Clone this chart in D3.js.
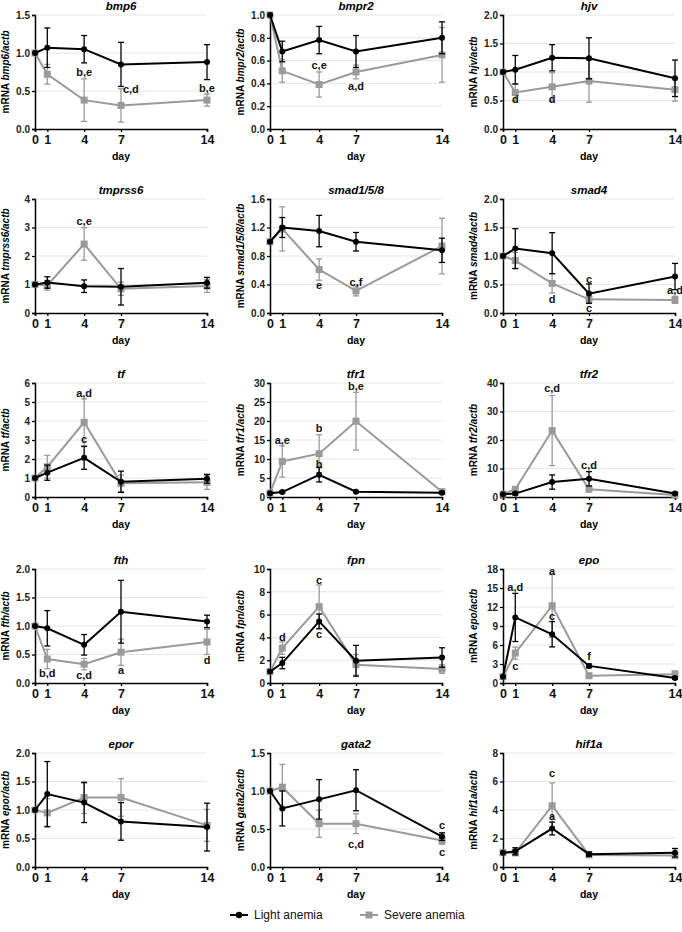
<!DOCTYPE html>
<html><head><meta charset="utf-8">
<script src="https://cdn.jsdelivr.net/npm/d3@7"></script>
<style>body{margin:0;background:#fff;}svg{display:block;font-family:"Liberation Sans",Arial,sans-serif;}</style>
</head><body><svg id="c" width="682" height="932"></svg>
<script>
const days = [0, 1, 4, 7, 14];
const genes = ["bmp6","bmpr2","hjv","tmprss6","smad1/5/8","smad4","tf","tfr1","tfr2","fth","fpn","epo","epor","gata2","hif1a"];
const yMax  = [1.5, 1.0, 2.0, 4, 1.6, 2.0, 6, 30, 40, 2.0, 10, 18, 2.0, 1.5, 8];
const yStep = [0.5, 0.2, 0.5, 1, 0.4, 0.5, 1, 5, 10, 0.5, 2, 3, 0.5, 0.5, 2];
const yFmt  = [".1f",".1f",".1f","d",".1f",".1f","d","d","d",".1f","d","d",".1f",".1f","d"];

const lightMean = [
 [1,1.07,1.05,0.85,0.88],[1,0.68,0.78,0.68,0.80],[1,1.04,1.25,1.24,0.89],
 [1,1.07,0.94,0.92,1.06],[1,1.20,1.15,1.00,0.88],[1,1.13,1.05,0.34,0.64],
 [1,1.28,2.06,0.80,0.96],[1,1.3,5.86,1.4,1.15],[1,1.2,5.25,6.4,1.2],
 [1,0.96,0.67,1.25,1.08],[1,1.75,5.4,1.95,2.24],[1,10.35,7.7,2.7,0.8],
 [1,1.28,1.13,0.80,0.70],[1,0.77,0.89,1.01,0.40],[1,1.1,2.7,0.9,1.0]];
const lightErr = [
 [0,0.26,0.18,0.29,0.23],[0,0.09,0.12,0.14,0.14],[0,0.25,0.23,0.36,0.32],
 [0,0.2,0.22,0.64,0.19],[0,0.14,0.22,0.13,0.17],[0,0.35,0.36,0.17,0.23],
 [0,0.4,0.6,0.56,0.23],[0,0.3,1.9,0.2,0.2],[0,0.5,2.5,2.5,0.3],
 [0,0.31,0.18,0.55,0.11],[0,0.5,0.65,1.35,0.85],[0,3.8,2.0,0.3,0.2],
 [0,0.57,0.35,0.33,0.42],[0,0.23,0.26,0.27,0.05],[0,0.25,0.45,0.15,0.3]];
const severeMean = [
 [1,0.72,0.38,0.31,0.38],[1,0.51,0.39,0.50,0.65],[1,0.64,0.74,0.84,0.69],
 [1,0.97,2.42,0.85,0.95],[1,1.18,0.61,0.31,0.94],[1,0.92,0.52,0.24,0.23],
 [1,1.59,3.93,0.72,0.77],[1,9.36,11.4,19.95,1.4],[1,2.7,23.3,2.7,0.7],
 [1,0.42,0.33,0.54,0.72],[1,3.06,6.7,1.6,1.22],[1,4.72,12.2,1.15,1.4],
 [1,0.95,1.22,1.22,0.73],[1,1.05,0.57,0.57,0.35],[1,1.0,4.3,0.85,0.8]];
const severeErr = [
 [0,0.13,0.28,0.22,0.08],[0,0.1,0.11,0.06,0.24],[0,0.15,0.25,0.37,0.2],
 [0,0.17,0.57,0.23,0.23],[0,0.31,0.15,0.07,0.39],[0,0.14,0.17,0.06,0.06],
 [0,0.6,1.23,0.43,0.37],[0,4.1,5.0,7.6,0.3],[0,0.8,12.3,0.6,0.2],
 [0,0.17,0.1,0.23,0.22],[0,0.55,1.9,0.9,0.38],[0,0.95,5.0,0.2,0.5],
 [0,0.25,0.28,0.33,0.28],[0,0.3,0.18,0.13,0.05],[0,0.2,1.6,0.15,0.2]];
// significance letters: [day, value, text]
const letters = [
 [[4,0.75,"b,e"],[7.8,0.52,"c,d"],[14,0.54,"b,e"]],
 [[4,0.56,"c,e"],[7,0.38,"a,d"]],
 [[1,0.53,"d"],[4,0.53,"d"]],
 [[4,3.21,"c,e"]],
 [[4,0.39,"e"],[7,0.44,"c,f"]],
 [[4,0.25,"d"],[7,0.6,"c"],[7,0.08,"c"],[14,0.40,"a,d"]],
 [[4,5.48,"a,d"],[4,3.06,"c"]],
 [[1,14.95,"a,e"],[4,18.0,"b"],[4,8.75,"b"],[7,29.1,"b,e"]],
 [[4,38.25,"c,d"],[7,11.2,"c,d"]],
 [[1,0.175,"b,d"],[4,0.14,"c,d"],[7,0.23,"a"],[14,0.4,"d"]],
 [[1,4.0,"d"],[4,9.04,"c"],[4,4.31,"c"]],
 [[1,15.1,"a,d"],[1,2.7,"c"],[4,17.7,"a"],[4,10.6,"c"],[7,4.2,"f"]],
 [],
 [[7,0.3,"c,d"],[14,0.55,"c"],[14,0.2,"c"]],
 [[4,6.6,"c"],[4,3.6,"a"]]];
const seriesNames = ["Light anemia","Severe anemia"];

const colX = [35, 270, 503], rowY = [15, 199, 383, 569, 753];
const W = 172, H = 114;
const BLACK = "#000", GRAY = "#9a9a9a";
const svg = d3.select("#c");

genes.forEach((g, i) => {
  const ox = colX[i % 3], oy = rowY[Math.floor(i / 3)];
  const G = svg.append("g").attr("transform", `translate(${ox},${oy})`);
  const x = d3.scaleLinear().domain([0, 14]).range([0, W]);
  const y = d3.scaleLinear().domain([0, yMax[i]]).range([H, 0]);
  const ticks = d3.range(0, yMax[i] + yStep[i] / 2, yStep[i]);
  G.selectAll(".grid").data(ticks.filter(t => t > 0)).join("line")
    .attr("x1", 1).attr("x2", W).attr("y1", d => y(d)).attr("y2", d => y(d))
    .attr("stroke", "#e6e6e6").attr("stroke-width", 1);
  const ya = G.append("g").call(d3.axisLeft(y).tickValues(ticks).tickSize(3).tickFormat(d3.format(yFmt[i])));
  ya.selectAll("text").attr("font-size", 10).attr("font-weight", "bold").attr("fill", "#222").attr("x", -5);
  const xa = G.append("g").attr("transform", `translate(0,${H})`).call(d3.axisBottom(x).tickValues(days).tickSize(3));
  xa.selectAll("text").attr("font-size", 12.5).attr("font-weight", "bold").attr("fill", "#111").attr("y", 6);
  [ya, xa].forEach(a => { a.select(".domain").attr("stroke-width", 1.5); a.selectAll(".tick line").attr("stroke-width", 1.3); });
  G.append("text").attr("x", W / 2).attr("y", -5).attr("text-anchor", "middle")
    .attr("font-size", 11.5).attr("font-weight", "bold").attr("font-style", "italic").text(g);
  G.append("text").attr("x", W / 2).attr("y", H + 31).attr("text-anchor", "middle")
    .attr("font-size", 10.5).attr("font-weight", "bold").text("day");
  const yl = G.append("text").attr("transform", `translate(-26,${H / 2}) rotate(-90)`)
    .attr("text-anchor", "middle").attr("font-size", 10).attr("font-weight", "bold");
  yl.append("tspan").text("mRNA ");
  yl.append("tspan").attr("font-style", "italic").text(g + "/actb");
  const series = [
    {m: severeMean[i], e: severeErr[i], c: GRAY, sq: true},
    {m: lightMean[i], e: lightErr[i], c: BLACK, sq: false}];
  series.forEach(s => {
    const pts = days.map((d, k) => ({d, v: s.m[k], e: s.e[k]}));
    const eb = G.append("g").attr("stroke", s.c).attr("stroke-width", 1.3);
    pts.filter(p => p.e > 0).forEach(p => {
      const cx = x(p.d);
      eb.append("line").attr("x1", cx).attr("x2", cx).attr("y1", y(p.v + p.e)).attr("y2", y(Math.max(0, p.v - p.e)));
      eb.append("line").attr("x1", cx - 3).attr("x2", cx + 3).attr("y1", y(p.v + p.e)).attr("y2", y(p.v + p.e));
      eb.append("line").attr("x1", cx - 3).attr("x2", cx + 3).attr("y1", y(Math.max(0, p.v - p.e))).attr("y2", y(Math.max(0, p.v - p.e)));
    });
    G.append("path").datum(pts).attr("fill", "none").attr("stroke", s.c).attr("stroke-width", 2)
      .attr("d", d3.line().x(p => x(p.d)).y(p => y(p.v)));
    if (s.sq) {
      G.selectAll(null).data(pts).join("rect").attr("x", p => x(p.d) - 3.5).attr("y", p => y(p.v) - 3.5)
        .attr("width", 7).attr("height", 7).attr("fill", s.c);
    } else {
      G.selectAll(null).data(pts).join("circle").attr("cx", p => x(p.d)).attr("cy", p => y(p.v))
        .attr("r", 3).attr("fill", s.c);
    }
  });
  G.selectAll(null).data(letters[i]).join("text")
    .attr("x", d => x(d[0])).attr("y", d => y(d[1])).attr("dy", "0.35em")
    .attr("text-anchor", "middle").attr("font-size", 11).attr("font-weight", "bold").attr("fill", "#111")
    .text(d => d[2]);
});

const lg = svg.append("g").attr("transform", "translate(0,915)");
[[230, BLACK, false], [360, GRAY, true]].forEach((L, k) => {
  lg.append("line").attr("x1", L[0]).attr("x2", L[0] + 18).attr("stroke", L[1]).attr("stroke-width", 2);
  if (L[2]) lg.append("rect").attr("x", L[0] + 5.5).attr("y", -3.5).attr("width", 7).attr("height", 7).attr("fill", L[1]);
  else lg.append("circle").attr("cx", L[0] + 9).attr("r", 3.2).attr("fill", L[1]);
  lg.append("text").attr("x", L[0] + 24).attr("dy", "0.35em").attr("font-size", 12).attr("fill", "#111").text(seriesNames[k]);
});
</script></body></html>
